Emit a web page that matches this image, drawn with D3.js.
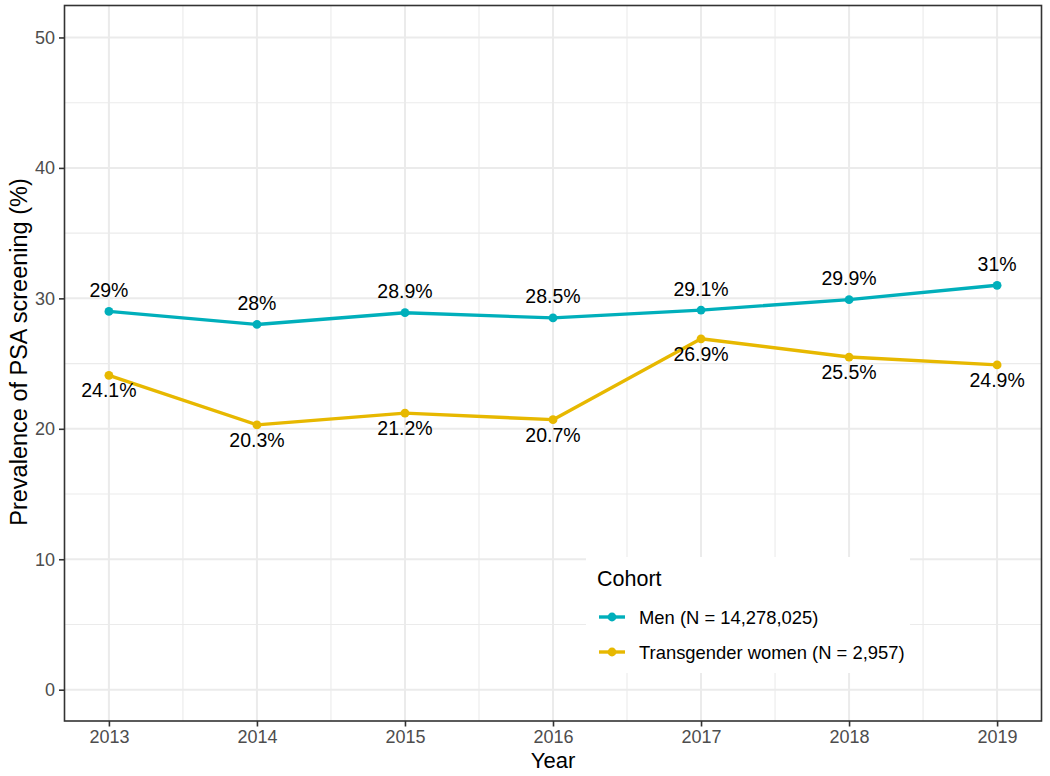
<!DOCTYPE html>
<html>
<head>
<meta charset="utf-8">
<script src="https://cdn.jsdelivr.net/npm/d3@7"></script>
<style>
  html, body { margin: 0; padding: 0; background: #fff; }
  svg { display: block; font-family: "Liberation Sans", Arial, sans-serif; }
</style>
</head>
<body>
<svg id="chart" width="1050" height="776"></svg>
<script>
const years = [2013, 2014, 2015, 2016, 2017, 2018, 2019];
const menValues = [29, 28, 28.9, 28.5, 29.1, 29.9, 31];
const twValues = [24.1, 20.3, 21.2, 20.7, 26.9, 25.5, 24.9];
const menLabels = ["29%", "28%", "28.9%", "28.5%", "29.1%", "29.9%", "31%"];
const twLabels = ["24.1%", "20.3%", "21.2%", "20.7%", "26.9%", "25.5%", "24.9%"];
const seriesNames = ["Men (N = 14,278,025)", "Transgender women (N = 2,957)"];
const seriesColors = ["#00AFBB", "#E7B800"];
const yTicks = [0, 10, 20, 30, 40, 50];
const yMinor = [5, 15, 25, 35, 45];
const xMinor = [2013.5, 2014.5, 2015.5, 2016.5, 2017.5, 2018.5];

const svg = d3.select("#chart");
const P = { left: 64.5, right: 1041.5, top: 5.5, bottom: 721 };

const x = d3.scaleLinear().domain([2012.7, 2019.3]).range([P.left, P.right]);
const y = d3.scaleLinear().domain([-2.4, 52.45]).range([P.bottom, P.top]);

// panel background
svg.append("rect").attr("x", P.left).attr("y", P.top)
  .attr("width", P.right - P.left).attr("height", P.bottom - P.top).attr("fill", "#fff");

const grid = svg.append("g");
grid.selectAll(".ymin").data(yMinor).join("line")
  .attr("x1", P.left).attr("x2", P.right).attr("y1", d => y(d)).attr("y2", d => y(d))
  .attr("stroke", "#ebebeb").attr("stroke-width", 1.1);
grid.selectAll(".xmin").data(xMinor).join("line")
  .attr("y1", P.top).attr("y2", P.bottom).attr("x1", d => x(d)).attr("x2", d => x(d))
  .attr("stroke", "#ebebeb").attr("stroke-width", 1.1);
grid.selectAll(".ymaj").data(yTicks).join("line")
  .attr("x1", P.left).attr("x2", P.right).attr("y1", d => y(d)).attr("y2", d => y(d))
  .attr("stroke", "#ebebeb").attr("stroke-width", 2);
grid.selectAll(".xmaj").data(years).join("line")
  .attr("y1", P.top).attr("y2", P.bottom).attr("x1", d => x(d)).attr("x2", d => x(d))
  .attr("stroke", "#ebebeb").attr("stroke-width", 2);

// lines and points
const series = [
  { name: seriesNames[0], color: seriesColors[0], values: menValues, labels: menLabels, above: true },
  { name: seriesNames[1], color: seriesColors[1], values: twValues, labels: twLabels, above: false }
];
const line = d3.line().x(d => x(d[0])).y(d => y(d[1]));
series.forEach(s => {
  const pts = years.map((yr, i) => [yr, s.values[i]]);
  svg.append("path").datum(pts).attr("d", line)
    .attr("fill", "none").attr("stroke", s.color).attr("stroke-width", 3.4)
    .attr("stroke-linejoin", "round");
  svg.append("g").selectAll("circle").data(pts).join("circle")
    .attr("cx", d => x(d[0])).attr("cy", d => y(d[1])).attr("r", 4.4)
    .attr("fill", s.color);
});

// data labels
series.forEach(s => {
  svg.append("g").selectAll("text").data(years.map((yr, i) => [yr, s.values[i], s.labels[i]])).join("text")
    .attr("x", d => x(d[0]))
    .attr("y", d => y(d[1]) + (s.above ? -14.5 : 22))
    .attr("text-anchor", "middle")
    .attr("font-size", 19.5).attr("fill", "#000")
    .text(d => d[2]);
});

// legend
const lg = svg.append("g");
lg.append("rect").attr("x", 586).attr("y", 557).attr("width", 324).attr("height", 116).attr("fill", "#fff");
lg.append("text").attr("x", 597).attr("y", 586).attr("font-size", 21.5).attr("fill", "#000").text("Cohort");
series.forEach((s, i) => {
  const cy = 617 + i * 35;
  lg.append("line").attr("x1", 599).attr("x2", 625).attr("y1", cy).attr("y2", cy)
    .attr("stroke", s.color).attr("stroke-width", 3.4);
  lg.append("circle").attr("cx", 612).attr("cy", cy).attr("r", 4.4).attr("fill", s.color);
  lg.append("text").attr("x", 639).attr("y", cy + 6.5).attr("font-size", 18.4).attr("fill", "#000").text(s.name);
});

// axes
const xAxis = d3.axisBottom(x).tickValues(years).tickFormat(d3.format("d")).tickSize(5.5).tickPadding(4);
const gx = svg.append("g").attr("transform", `translate(0,${P.bottom})`).call(xAxis);
gx.select(".domain").remove();
gx.selectAll("line").attr("stroke", "#333").attr("stroke-width", 1.6);
gx.selectAll("text").attr("font-size", 18).attr("fill", "#4d4d4d").attr("font-family", "Liberation Sans, Arial, sans-serif");

const yAxis = d3.axisLeft(y).tickValues(yTicks).tickSize(5.5).tickPadding(4);
const gy = svg.append("g").attr("transform", `translate(${P.left},0)`).call(yAxis);
gy.select(".domain").remove();
gy.selectAll("line").attr("stroke", "#333").attr("stroke-width", 1.6);
gy.selectAll("text").attr("font-size", 18).attr("fill", "#4d4d4d").attr("font-family", "Liberation Sans, Arial, sans-serif");

// panel border
svg.append("rect").attr("x", P.left).attr("y", P.top)
  .attr("width", P.right - P.left).attr("height", P.bottom - P.top)
  .attr("fill", "none").attr("stroke", "#333").attr("stroke-width", 1.6);

// axis titles
svg.append("text").attr("x", (P.left + P.right) / 2).attr("y", 768)
  .attr("text-anchor", "middle").attr("font-size", 22).attr("fill", "#000").text("Year");
svg.append("text").attr("transform", `translate(26.5,352) rotate(-90)`)
  .attr("text-anchor", "middle").attr("font-size", 23.5).attr("fill", "#000")
  .text("Prevalence of PSA screening (%)");
</script>
</body>
</html>
